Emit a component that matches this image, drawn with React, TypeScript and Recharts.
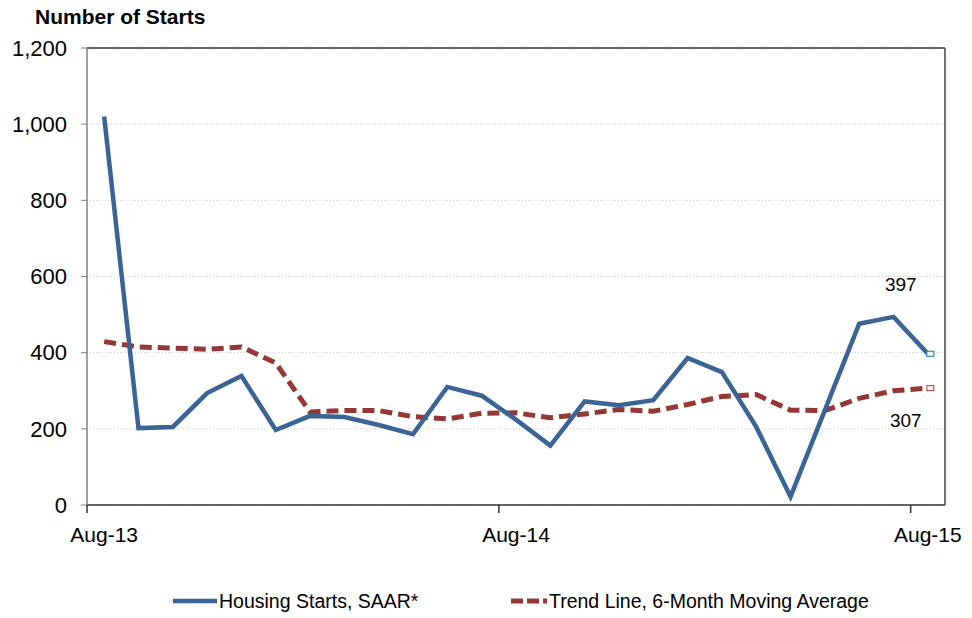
import React from 'react';
import {
  LineChart,
  Line,
  XAxis,
  YAxis,
  CartesianGrid,
  ReferenceLine,
  LabelList,
} from 'recharts';

const months = [
  'Aug-13', 'Sep-13', 'Oct-13', 'Nov-13', 'Dec-13',
  'Jan-14', 'Feb-14', 'Mar-14', 'Apr-14', 'May-14', 'Jun-14', 'Jul-14',
  'Aug-14', 'Sep-14', 'Oct-14', 'Nov-14', 'Dec-14',
  'Jan-15', 'Feb-15', 'Mar-15', 'Apr-15', 'May-15', 'Jun-15', 'Jul-15',
  'Aug-15',
];

const housingStarts = [
  1020, 202, 205, 294, 339, 197, 234, 231, 210, 186, 310, 287, 224, 156,
  272, 262, 275, 386, 349, 205, 22, 249, 476, 494, 397,
];

const trendLine = [
  429, 415, 412, 409, 415, 373, 244, 248, 248, 232, 226, 241, 242, 229,
  239, 251, 246, 264, 285, 290, 249, 248, 280, 300, 307,
];

const yTicks = [0, 200, 400, 600, 800, 1000, 1200];

const chartData = months.map((month, i) => ({
  month,
  starts: housingStarts[i],
  trend: trendLine[i],
}));

const FONT = '"Liberation Sans", Arial, sans-serif';
const BLUE = '#3A6496';
const RED = '#953735';
const LAST = months.length - 1;
const HALF_BAND = 858 / months.length / 2;

const XTick = ({ x, y, payload }: any) => (
  <g>
    <line x1={x - HALF_BAND} x2={x - HALF_BAND} y1={y} y2={y + 8} stroke="#333" strokeWidth={1.5} />
    <text x={x} y={y + 37} textAnchor="middle" fontSize={21} fill="#000" fontFamily={FONT}>
      {payload.value}
    </text>
  </g>
);

const lastDot = (color: string) => (props: any) => {
  const { cx, cy, index } = props;
  if (index !== LAST) return <g key={`d-${index}`} />;
  return (
    <rect
      key={`d-${index}`}
      x={cx - 1}
      y={cy - 2.5}
      width={7}
      height={5}
      fill="#fff"
      stroke={color}
      strokeWidth={1.2}
    />
  );
};

const lastLabel = (dx: number, dy: number) => (props: any) => {
  const { x, y, value, index } = props;
  if (index !== LAST) return null;
  return (
    <text x={x + dx} y={y + dy} textAnchor="middle" fontSize={19} fill="#000" fontFamily={FONT}>
      {value}
    </text>
  );
};

export default function App() {
  return (
    <div style={{ position: 'absolute', left: 0, top: 0, width: 972, height: 618, background: '#fff', fontFamily: FONT }}>
      <LineChart
        width={972}
        height={618}
        data={chartData}
        margin={{ top: 48, right: 26, bottom: 63, left: 0 }}
      >
        <CartesianGrid yAxisId="l" vertical={false} stroke="#c4c4c4" strokeDasharray="1 2" />
        <XAxis
          dataKey="month"
          interval={11}
          padding={{ left: HALF_BAND, right: HALF_BAND }}
          height={50}
          tickSize={0}
          tickMargin={0}
          tickLine={false}
          axisLine={{ stroke: '#333', strokeWidth: 1.5 }}
          tick={<XTick />}
        />
        <YAxis
          yAxisId="l"
          width={87}
          domain={[0, 1200]}
          ticks={yTicks}
          tickFormatter={(v: number) => v.toLocaleString('en-US')}
          tickSize={6}
          tickMargin={14}
          tick={{ fontSize: 22, fill: '#000', fontFamily: FONT }}
          axisLine={{ stroke: '#808080', strokeWidth: 1.5 }}
          tickLine={{ stroke: '#808080' }}
        />
        <YAxis
          yAxisId="r"
          orientation="right"
          width={1}
          tick={false}
          tickLine={false}
          axisLine={{ stroke: '#444', strokeWidth: 1.5 }}
        />
        <ReferenceLine yAxisId="l" y={1200} stroke="#333" strokeWidth={1.5} />
        <Line
          yAxisId="l"
          type="linear"
          dataKey="trend"
          stroke={RED}
          strokeWidth={5}
          strokeDasharray="12 6"
          dot={lastDot('#c0504d')}
          activeDot={false}
          isAnimationActive={false}
        >
          <LabelList dataKey="trend" content={lastLabel(-22, 39)} />
        </Line>
        <Line
          yAxisId="l"
          type="linear"
          dataKey="starts"
          stroke={BLUE}
          strokeWidth={4.5}
          dot={lastDot('#2E8BC0')}
          activeDot={false}
          isAnimationActive={false}
        >
          <LabelList dataKey="starts" content={lastLabel(-27, -63)} />
        </Line>
      </LineChart>

      <svg
        width={972}
        height={618}
        style={{ position: 'absolute', left: 0, top: 0, pointerEvents: 'none' }}
      >
        <text x={35} y={24} fontSize={21} fontWeight="bold" fill="#000" fontFamily={FONT}>
          Number of Starts
        </text>
        <line x1={173} x2={217} y1={601} y2={601} stroke={BLUE} strokeWidth={4.5} />
        <text x={219} y={608} fontSize={19.5} fill="#000" fontFamily={FONT}>
          Housing Starts, SAAR*
        </text>
        <line x1={511} x2={547} y1={601} y2={601} stroke={RED} strokeWidth={5} strokeDasharray="12 4 12 4 4" />
        <text x={549} y={608} fontSize={19.5} fill="#000" fontFamily={FONT}>
          Trend Line, 6-Month Moving Average
        </text>
      </svg>
    </div>
  );
}
